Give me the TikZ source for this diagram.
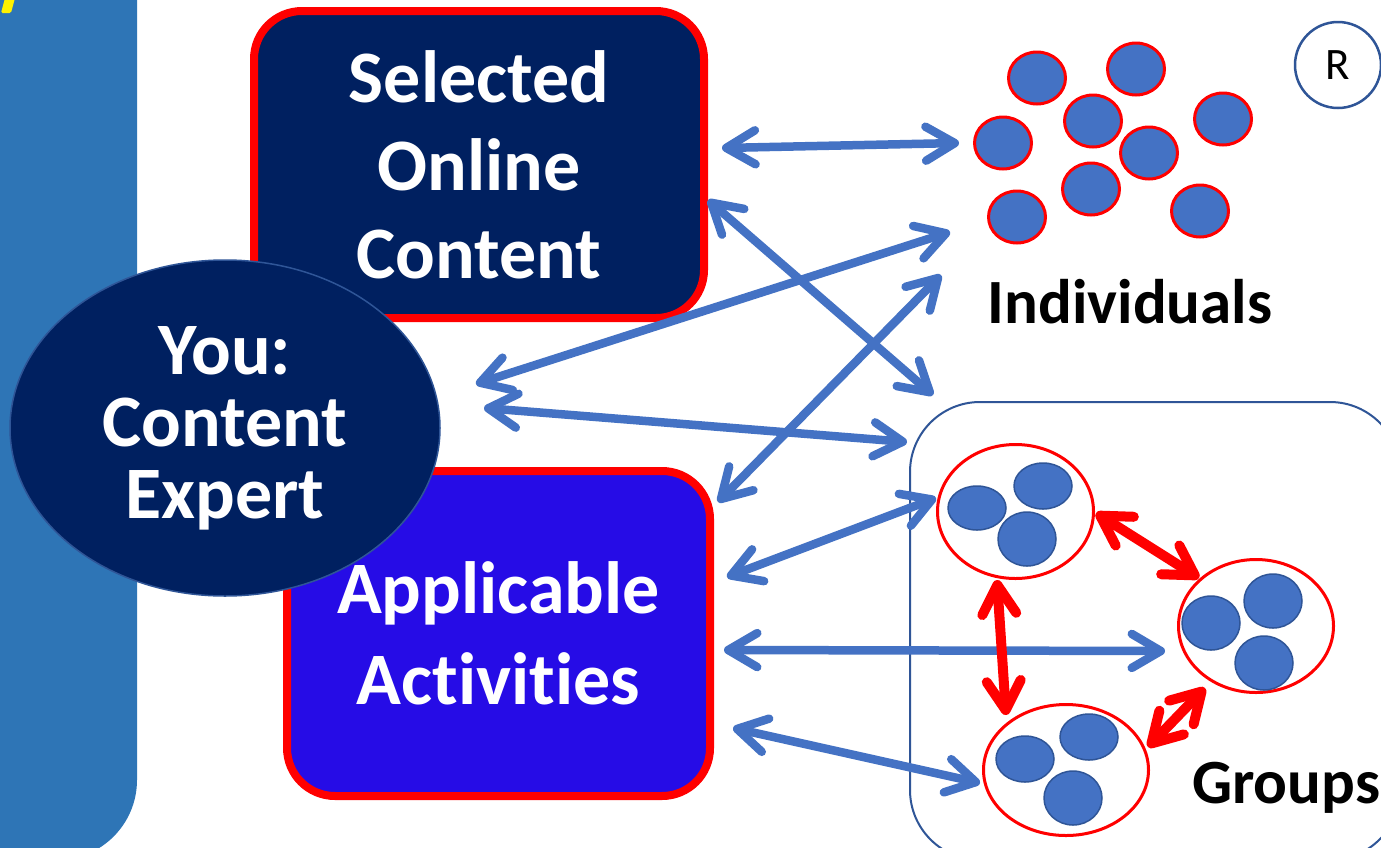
\documentclass[tikz,border=0pt]{standalone}
\usepackage{fontspec}
\setmainfont{Carlito}[Ligatures=NoCommon]
\usetikzlibrary{arrows.meta,shapes.geometric}
\definecolor{navy}{RGB}{0,32,96}
\definecolor{actblue}{RGB}{38,12,230}
\definecolor{barblue}{RGB}{46,117,182}
\definecolor{arrblue}{RGB}{68,114,196}
\definecolor{edgeblue}{RGB}{47,85,151}
\tikzset{
  bigbox/.style={draw=red, line width=8pt, rounded corners=48pt, text=white, align=center, inner sep=0pt},
  person/.style={ellipse, draw=red, line width=3pt, fill=arrblue, minimum width=57pt, minimum height=52pt, inner sep=0pt},
  member/.style={ellipse, draw=edgeblue, line width=1.5pt, fill=arrblue, minimum width=58pt, inner sep=0pt},
  team/.style={ellipse, draw=red, line width=3pt, inner sep=0pt},
  bluelink/.style={draw=arrblue, line width=8.5pt, {Straight Barb[length=29pt,width=34pt,round]}-{Straight Barb[length=29pt,width=34pt,round]}},
  redlink/.style={draw=red, line width=10pt, {Straight Barb[length=29pt,width=34pt,round]}-{Straight Barb[length=29pt,width=34pt,round]}},
  biglabel/.style={font=\bfseries\fontsize{63}{70}\selectfont, text=black, inner sep=0pt}
}
\begin{document}
\begin{tikzpicture}[x=1pt,y=-1pt]
\useasboundingbox (0,0) rectangle (1381,847);
\fill[white] (0,0) rectangle (1381,847);
% left bar
\fill[barblue, rounded corners=80pt] (-100,-100) rectangle (137,860);
\fill[yellow, rounded corners=1.5pt] (1,13) -- (5,-2) -- (15,-2) -- (11,13) -- cycle;

% groups frame
\draw[edgeblue, line width=2pt, rounded corners=70pt] (910,402) rectangle (1400,860);

% boxes
\node[bigbox, fill=navy, minimum width=450pt, minimum height=307pt,
      font=\bfseries\fontsize{74}{88}\selectfont] (sel) at (479,164.5) {Selected\\Online\\Content};
\node[bigbox, fill=actblue, minimum width=423pt, minimum height=325pt,
      font=\bfseries\fontsize{74}{91}\selectfont] (app) at (498.5,633.5) {Applicable\\Activities};
\node[ellipse, draw=edgeblue, line width=1.5pt, fill=navy, text=white, align=center,
      minimum width=430pt, minimum height=336pt, inner sep=0pt,
      font=\bfseries\fontsize{74}{72}\selectfont] (you) at (225,428) {You:\\Content\\Expert};

% R marker
\node[circle, draw=edgeblue, line width=2.5pt, minimum size=86pt, inner sep=0pt,
      font=\fontsize{45}{52}\selectfont] (r) at (1338,65) {R};

% individuals
\node[person] (i1) at (1037,78) {};
\node[person] (i2) at (1136,69) {};
\node[person] (i3) at (1093,121) {};
\node[person] (i4) at (1003,143) {};
\node[person] (i5) at (1223,119) {};
\node[person] (i6) at (1149,153) {};
\node[person] (i7) at (1091,189) {};
\node[person] (i8) at (1017,217) {};
\node[person] (i9) at (1200,211) {};
\node[biglabel, anchor=base] (indlabel) at (1130,323) {Individuals};

% groups
\node[team, minimum width=156pt, minimum height=134pt] (g1) at (1015.5,511.5) {};
\node[member, minimum height=44pt] (g1a) at (977,508) {};
\node[member, minimum height=46pt] (g1b) at (1043,486) {};
\node[member, minimum height=54pt] (g1c) at (1027,539) {};
\node[team, minimum width=155pt, minimum height=133pt] (g2) at (1256,626) {};
\node[member, minimum height=54pt] (g2a) at (1211,623) {};
\node[member, minimum height=54pt] (g2b) at (1273,601) {};
\node[member, minimum height=54pt] (g2c) at (1264,663) {};
\node[team, minimum width=165pt, minimum height=131pt] (g3) at (1066,770) {};
\node[member, minimum height=46pt] (g3a) at (1025,759) {};
\node[member, minimum height=46pt] (g3b) at (1089,737) {};
\node[member, minimum height=54pt] (g3c) at (1073,798) {};
\node[biglabel, anchor=base west] (grplabel) at (1192,803) {Groups};

% connector ends
\coordinate (a1s) at (722,148);  \coordinate (a1t) at (959,143);
\coordinate (a2s) at (708,200);  \coordinate (a2t) at (933,395);
\coordinate (a3s) at (476,384);  \coordinate (a3t) at (950,232);
\coordinate (a4s) at (484,408);  \coordinate (a4t) at (907,442);
\coordinate (a5s) at (718,502);  \coordinate (a5t) at (941,275);
\coordinate (a6s) at (727,577);  \coordinate (a6t) at (936,498);
\coordinate (a7s) at (724,650);  \coordinate (a7t) at (1165,651);
\coordinate (a8s) at (733,728);  \coordinate (a8t) at (980,783);
\coordinate (r1s) at (1096,513); \coordinate (r1t) at (1199,578);
\coordinate (r2s) at (997,580);  \coordinate (r2t) at (1006,715);
\coordinate (r3s) at (1205,688); \coordinate (r3t) at (1148,747);

\draw[bluelink] (a1s) -- (a1t);
\draw[bluelink] (a2s) -- (a2t);
\draw[bluelink] (a3s) -- (a3t);
\draw[bluelink] (a4s) -- (a4t);
\draw[bluelink] (a5s) -- (a5t);
\draw[bluelink] (a6s) -- (a6t);
\draw[bluelink] (a7s) -- (a7t);
\draw[bluelink] (a8s) -- (a8t);
\draw[redlink] (r1s) -- (r1t);
\draw[redlink] (r2s) -- (r2t);
\draw[redlink] (r3s) -- (r3t);
\end{tikzpicture}
\end{document}
